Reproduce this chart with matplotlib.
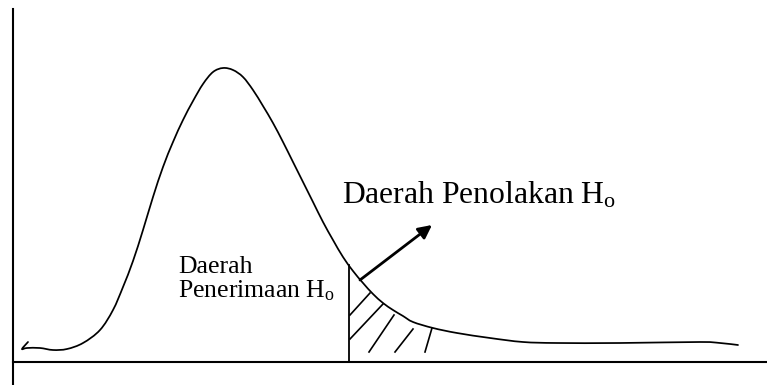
import numpy as np
import matplotlib
matplotlib.use("Agg")
import matplotlib.pyplot as plt
from matplotlib.path import Path
from matplotlib.patches import PathPatch

plt.rcParams['font.family'] = ['Liberation Serif', 'DejaVu Serif']
plt.rcParams['mathtext.fontset'] = 'custom'
plt.rcParams['mathtext.rm'] = 'Liberation Serif'
plt.rcParams['mathtext.it'] = 'Liberation Serif:italic'

# Hand-drawn distribution curve
curve_x = [15, 9, 14, 27, 40, 54, 70, 87, 100, 110, 120, 130, 140, 150, 160, 170,
           180, 190, 200, 210, 220, 230, 240, 250, 260, 270, 280, 290, 300, 310,
           320, 330, 340, 350, 360, 370, 380, 390, 400, 420, 444, 477, 510, 544,
           607, 687, 707, 725]
curve_y = [20, 13, 14, 14, 12, 13, 19, 32, 52, 75, 101, 132, 165, 195, 220, 242,
           261, 278, 290, 294, 292, 285, 272, 256, 239, 220, 200, 180, 160, 140,
           122, 105, 91, 79, 68, 59, 52, 46, 40, 34, 29, 24, 20, 19,
           19, 20, 19, 17]

# Critical value (boundary of rejection region)
critical_x = 336

# Hatch strokes in the rejection region
hatch_x0 = [337, 337, 356, 382, 412]
hatch_y0 = [47, 23, 10, 10, 10]
hatch_x1 = [357, 370, 381, 400, 419]
hatch_y1 = [69, 58, 47, 33, 34]

# Arrow from rejection region to label
arrow_start = (347, 82)
arrow_end = (419, 137)

label_reject = r'Daerah Penolakan H$_{\mathrm{o}}$'
label_accept = ['Daerah', r'Penerimaan H$_{\mathrm{o}}$']


def smooth_path(xs, ys):
    """Catmull-Rom style cubic Bezier path passing through the given points."""
    pts = np.column_stack([xs, ys]).astype(float)
    n = len(pts)
    verts = [pts[0]]
    codes = [Path.MOVETO]
    for i in range(n - 1):
        p0 = pts[i - 1] if i > 0 else pts[i]
        p1 = pts[i]
        p2 = pts[i + 1]
        p3 = pts[i + 2] if i + 2 < n else pts[i + 1]
        c1 = p1 + (p2 - p0) / 6.0
        c2 = p2 - (p3 - p1) / 6.0
        verts += [c1, c2, p2]
        codes += [Path.CURVE4] * 3
    return Path(verts, codes)


fig = plt.figure(figsize=(7.67, 3.85), dpi=100)
ax = fig.add_axes([0, 0, 1, 1])
ax.set_xlim(-13, 754)
ax.set_ylim(-23, 362)

for s in ['top', 'right']:
    ax.spines[s].set_visible(False)
ax.spines['left'].set_position(('data', 0))
ax.spines['bottom'].set_position(('data', 0))
ax.spines['left'].set_bounds(-23, 353)
ax.spines['bottom'].set_bounds(0, 754)
for s in ['left', 'bottom']:
    ax.spines[s].set_linewidth(1.5)
    ax.spines[s].set_color('black')
ax.set_xticks([])
ax.set_yticks([])

ax.add_patch(PathPatch(smooth_path(curve_x, curve_y), facecolor='none',
                       edgecolor='black', lw=1.25, joinstyle='round',
                       capstyle='round'))

top = np.interp(critical_x, curve_x[2:], curve_y[2:])
ax.plot([critical_x, critical_x], [0, top], color='black', lw=1.3)

for x0, y0, x1, y1 in zip(hatch_x0, hatch_y0, hatch_x1, hatch_y1):
    ax.plot([x0, x1], [y0, y1], color='black', lw=1.2)

ax.annotate('', xy=arrow_end, xytext=arrow_start,
            arrowprops=dict(arrowstyle='-|>', color='black', lw=2.0,
                            mutation_scale=20, shrinkA=0, shrinkB=0))

ax.text(329, 159, label_reject, fontsize=22.8, va='baseline', ha='left')
ax.text(165, 89, label_accept[0], fontsize=18.5, va='baseline', ha='left')
ax.text(165, 65, label_accept[1], fontsize=18.5, va='baseline', ha='left')

fig.savefig('out.png', dpi=100)
